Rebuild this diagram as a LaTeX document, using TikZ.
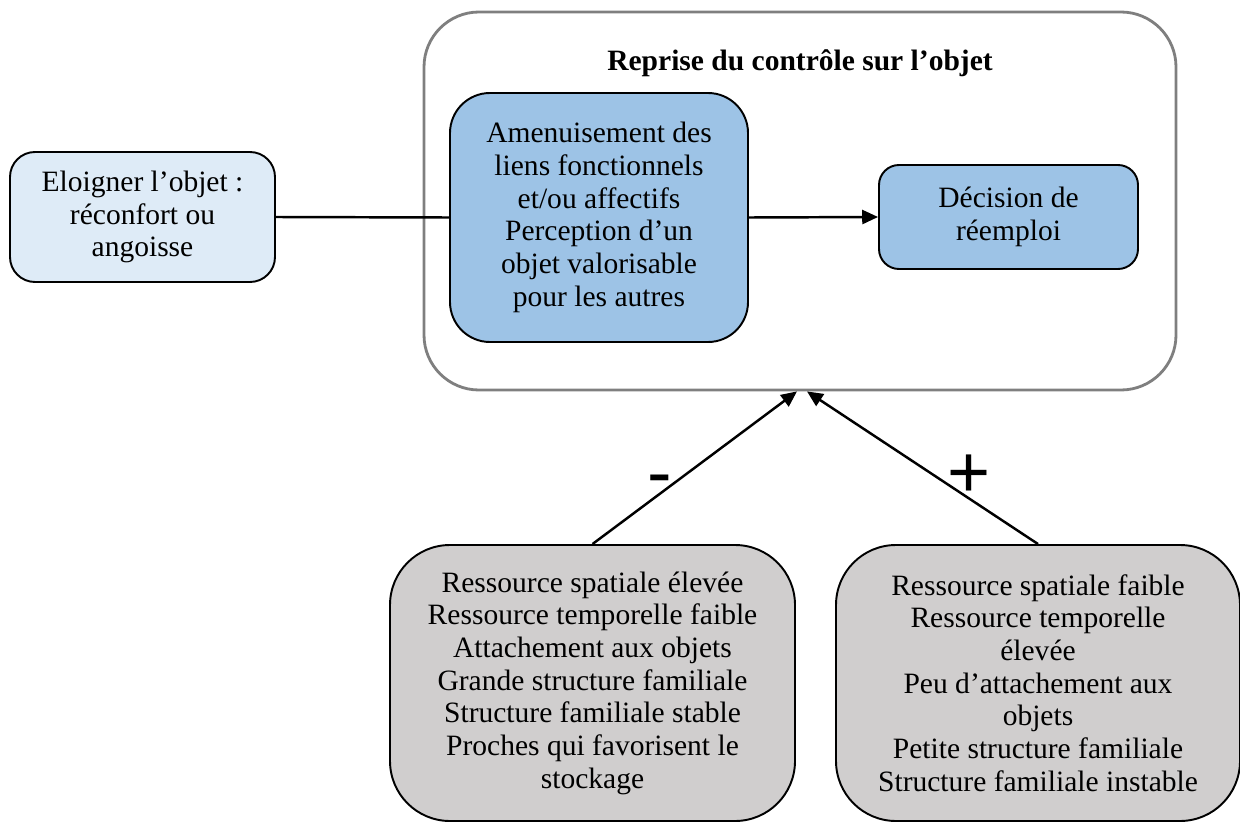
\documentclass[tikz,border=0pt]{standalone}
\usepackage{fontspec}
\setmainfont{Liberation Serif}
\newfontfamily\signfont{Liberation Sans}
\usetikzlibrary{arrows.meta}
\definecolor{paleblue}{HTML}{DEEBF7}
\definecolor{midblue}{HTML}{9DC3E6}
\definecolor{boxgray}{HTML}{D0CECE}
\definecolor{framegray}{HTML}{7F7F7F}

\begin{document}
\begin{tikzpicture}[
    roundbox/.style={draw, line width=1.1pt, rounded corners=#1, align=center, inner sep=2pt,
      font=\fontsize{16.8}{18.6}\selectfont},
    link/.style={line width=1.4pt},
    arrow/.style={link, -{Triangle[length=9pt,width=8pt]}},
    sign/.style={anchor=base, inner sep=0pt, font=\signfont\fontsize{42}{42}\selectfont}]
    \useasboundingbox (0,0) rectangle (24.8,16.44);

    \node[draw=framegray, line width=1.6pt, rounded corners=1.1cm, minimum width=15.04cm, minimum height=7.56cm] (frame) at (16,12.42) {};
    \node[font=\bfseries\fontsize{16.8}{18.6}\selectfont] (title) at (16,15.18) {Reprise du contrôle sur l’objet};

    \node[roundbox=0.5cm, fill=paleblue, minimum width=5.3cm, minimum height=2.6cm] (away) at (2.85,12.1)
      {Eloigner l’objet :\\réconfort ou\\angoisse};
    \node[roundbox=0.8cm, fill=midblue, minimum width=5.96cm, minimum height=4.98cm] (thin) at (11.98,12.09)
      {Amenuisement des\\liens fonctionnels\\et/ou affectifs\\Perception d’un\\objet valorisable\\pour les autres};
    \node[roundbox=0.4cm, fill=midblue, minimum width=5.18cm, minimum height=2.08cm] (reuse) at (20.17,12.1)
      {Décision de\\réemploi};

    \node[roundbox=1.2cm, fill=boxgray, minimum width=8.1cm, minimum height=5.52cm] (high) at (11.85,2.78)
      {Ressource spatiale élevée\\Ressource temporelle faible\\Attachement aux objets\\Grande structure familiale\\Structure familiale stable\\Proches qui favorisent le\\stockage};
    \node[roundbox=1.2cm, fill=boxgray, minimum width=8.08cm, minimum height=5.52cm] (low) at (20.76,2.78)
      {Ressource spatiale faible\\Ressource temporelle\\élevée\\Peu d’attachement aux\\objets\\Petite structure familiale\\Structure familiale instable};

    \draw[link] (away.east) -- (thin.west);
    \draw[arrow] (thin.east) -- (reuse.west);
    \draw[arrow] (high.north) -- ([xshift=-0.06cm]frame.south);
    \draw[arrow] (low.north) -- ([xshift=0.14cm]frame.south);

    \node[sign] (minus) at (13.2,6.5) {-};
    \node[sign] (plus) at (19.38,6.5) {+};
  \end{tikzpicture}
\end{document}
